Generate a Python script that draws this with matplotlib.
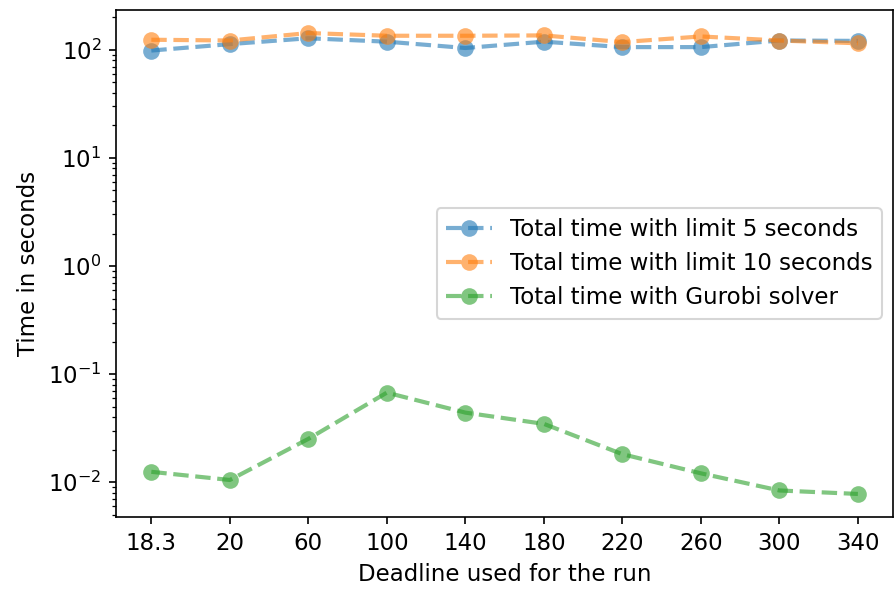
import numpy as np
import matplotlib.pyplot as plt

plt.rcParams['font.size'] = 11

deadlines = ["18.3", "20", "60", "100", "140", "180", "220", "260", "300", "340"]
time_limit5 = [98.5, 113, 128, 119, 104, 119, 106, 106, 122, 121]
time_limit10 = [124, 122, 143, 135, 135, 136, 118, 133, 122, 115]
time_gurobi = [0.0125, 0.0105, 0.0252, 0.0675, 0.0441, 0.0347, 0.0182, 0.0121, 0.0084, 0.0078]

fig = plt.figure(figsize=(895 / 150, 592 / 150), dpi=150)
ax = fig.add_axes([0.1296, 0.1267, 0.8684, 0.8564])

x = np.arange(len(deadlines))
style = dict(ls='--', marker='o', alpha=0.6, lw=2, ms=8, mew=0)
ax.plot(x, time_limit5, label="Total time with limit 5 seconds", **style)
ax.plot(x, time_limit10, label="Total time with limit 10 seconds", **style)
ax.plot(x, time_gurobi, label="Total time with Gurobi solver", **style)
ax.set_yscale('log')
ax.set_xticks(x)
ax.set_xticklabels(deadlines)
ax.set_xlabel("Deadline used for the run")
ax.set_ylabel("Time in seconds")
ax.legend(loc='center right')

fig.savefig("out.png", dpi=150)
